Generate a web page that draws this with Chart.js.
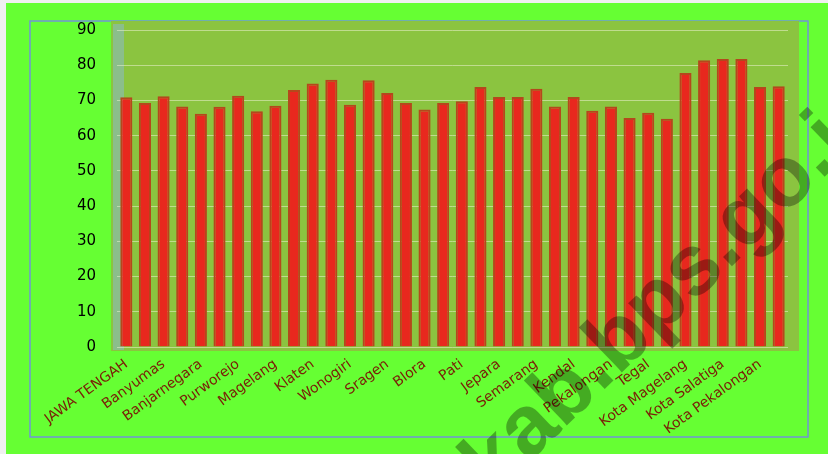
<!DOCTYPE html>
<html>
<head>
<meta charset="utf-8">
<script src="https://cdn.jsdelivr.net/npm/chart.js@4.4.1/dist/chart.umd.min.js"></script>
<style>
  html, body { margin: 0; padding: 0; background: #f0f0f0; }
  #wrap { width: 828px; height: 454px; position: relative; }
</style>
</head>
<body>
<div id="wrap"><canvas id="chart" width="828" height="454"></canvas></div>
<script>
const regions = ["JAWA TENGAH", "Cilacap", "Banyumas", "Purbalingga", "Banjarnegara", "Kebumen", "Purworejo", "Wonosobo",
    "Magelang", "Boyolali", "Klaten", "Sukoharjo", "Wonogiri", "Karanganyar", "Sragen", "Grobogan", "Blora", "Rembang",
    "Pati", "Kudus", "Jepara", "Demak", "Semarang", "Temanggung", "Kendal", "Batang", "Pekalongan", "Pemalang", "Tegal",
    "Brebes", "Kota Magelang", "Kota Surakarta", "Kota Salatiga", "Kota Semarang", "Kota Pekalongan", "Kota Tegal"];
const values = [70.9, 69.3, 71.2, 68.3, 66.2, 68.2, 71.3, 66.9, 68.5, 73.0, 74.8, 75.9, 68.8, 75.7, 72.1, 69.3, 67.4, 69.3,
    69.8, 73.8, 71.0, 71.0, 73.3, 68.3, 71.0, 67.1, 68.3, 65.0, 66.5, 64.8, 77.8, 81.4, 81.8, 81.8, 73.8, 74.0];
const yTicks = [0, 10, 20, 30, 40, 50, 60, 70, 80, 90];
const watermark = "kab.bps.go.id";

// backgrounds, frame, plot wall and watermark
const decor = {
    id: 'decor',
    beforeDraw(chart) {
        const { ctx, chartArea: a } = chart;
        ctx.save();
        ctx.fillStyle = '#f0f0f0';
        ctx.fillRect(0, 0, chart.width, chart.height);
        ctx.fillStyle = '#66ff33';
        ctx.fillRect(6, 3, chart.width - 6, chart.height - 3);
        ctx.strokeStyle = '#7394d8';
        ctx.lineWidth = 1.5;
        ctx.strokeRect(30, 21, 778, 416);
        ctx.fillStyle = '#8bc440';
        ctx.fillRect(a.left - 6, a.top - 9, a.right - a.left + 17, a.bottom - a.top + 13);
        ctx.fillStyle = 'rgba(140,185,200,0.55)';
        ctx.fillRect(a.left - 4, a.top - 6, 11, a.bottom - a.top + 9);
        ctx.restore();
    },
    afterDraw(chart) {
        const { ctx } = chart;
        ctx.save();
        ctx.translate(494, 496);
        ctx.rotate(-44 * Math.PI / 180);
        ctx.font = 'bold 86px "Liberation Sans", Arial, sans-serif';
        ctx.fillStyle = 'rgba(0,0,0,0.33)';
        ctx.fillText(watermark, 0, 0);
        ctx.restore();
    }
};

new Chart(document.getElementById('chart'), {
    type: 'bar',
    data: {
        labels: regions,
        datasets: [{
            data: values,
            backgroundColor: '#e8281e',
            borderColor: '#b4481c',
            borderWidth: { left: 2, right: 2, top: 2, bottom: 0 },
            barPercentage: 0.65,
            categoryPercentage: 1
        }]
    },
    options: {
        responsive: false,
        animation: false,
        layout: { padding: { left: 30, right: 40, top: 30, bottom: 7 } },
        plugins: { legend: { display: false }, tooltip: { enabled: false } },
        scales: {
            x: {
                grid: { display: false },
                border: { display: false },
                afterFit: s => { s.height = 100; },
                ticks: {
                    autoSkip: false, minRotation: 36, maxRotation: 36, padding: 1,
                    color: '#7a2008', font: { family: '"DejaVu Sans"', size: 14 },
                    callback: (v, i) => i % 2 === 0 ? regions[i] : ''
                }
            },
            y: {
                min: 0, max: 90,
                afterFit: s => { s.width = 87; },
                afterBuildTicks: s => { s.ticks = yTicks.map(v => ({ value: v })); },
                grid: { color: 'rgba(235,240,205,0.55)', lineWidth: 1, drawTicks: false },
                border: { display: false },
                ticks: { padding: 21, color: '#000', font: { family: '"DejaVu Sans"', size: 15 } }
            }
        }
    },
    plugins: [decor]
});
</script>
</body>
</html>
